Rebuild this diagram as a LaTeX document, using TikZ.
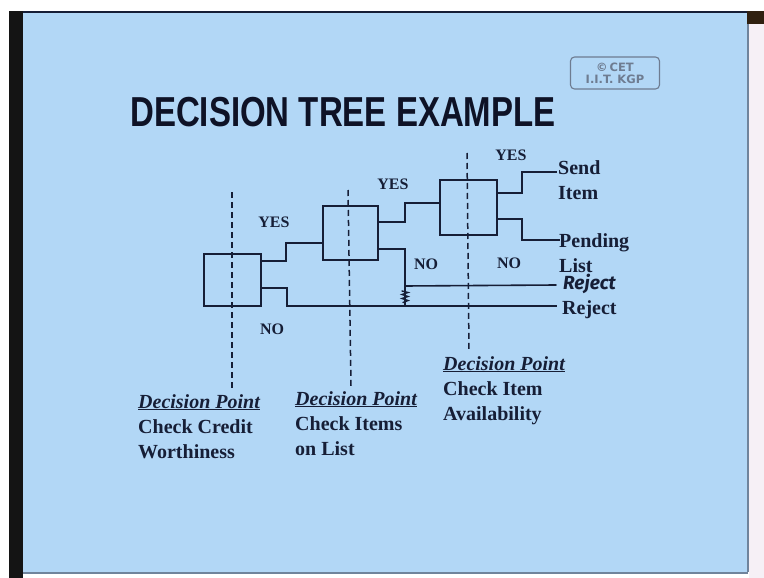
\documentclass[tikz,border=0pt]{standalone}
\usepackage{fontspec}
\usepackage{graphicx}
\setmainfont{Liberation Serif}
\setsansfont{Liberation Sans}
\newfontfamily\cetfont{DejaVu Sans}
\newfontfamily\handfont{Fira Sans}

\definecolor{slide}{RGB}{178,215,246}
\definecolor{ink}{RGB}{22,30,54}
\definecolor{titleink}{RGB}{14,18,38}
\definecolor{stamp}{RGB}{110,124,145}
\definecolor{paperedge}{RGB}{112,132,156}
\definecolor{offwhite}{RGB}{246,240,246}

\begin{document}
\begin{tikzpicture}[x=1pt,y=-1pt,
  every node/.style={inner sep=0pt, text=ink},
  dbox/.style={draw=ink, line width=1.5pt, anchor=north west},
  wire/.style={draw=ink, line width=1.3pt},
  hand/.style={draw=ink, line width=1.6pt, line cap=round},
  guide/.style={draw=ink, line width=1.5pt, dash pattern=on 6pt off 4pt},
  branch/.style={font=\fontsize{16}{16}\selectfont\bfseries},
  outcome/.style={font=\fontsize{20}{25}\selectfont\bfseries, align=left, anchor=north west},
  dpoint/.style={font=\fontsize{20}{25}\selectfont\bfseries, align=left, anchor=north west},
]
\useasboundingbox (0,0) rectangle (764,578);

% paper, projector frame and slide
\fill[white] (0,0) rectangle (764,578);
\fill[black!92] (9,11) rectangle (23,578);
\fill[offwhite] (749,11) rectangle (764,578);
\fill[slide] (23,12) rectangle (747,572);
\draw[paperedge, line width=2pt] (748,12) -- (748,572);
\draw[paperedge, line width=2pt] (23,573) -- (748,573);
\draw[ink, line width=1.5pt] (23,11.8) -- (748,11.8);
\fill[black!75!brown] (747,11) rectangle (764,24);

% copyright stamp
\node[draw=stamp, line width=1.1pt, rounded corners=4pt, minimum width=89pt, minimum height=32pt,
      align=center, text=stamp, font=\cetfont\bfseries\fontsize{11.5}{12}\selectfont]
  (stamp) at (615,73) {\copyright\,CET\\I.I.T.\ KGP};

% title
\node[anchor=base west, text=titleink, font=\sffamily\bfseries\fontsize{33}{33}\selectfont]
  (title) at (130,127) {\scalebox{1}[1.27]{DECISION TREE EXAMPLE}};

% decision point guide lines
\draw[guide] (232,192) -- (232,388);
\draw[guide] (348,190) -- (351,386);
\draw[guide] (467,153) -- (469,350);

% decision boxes
\node[dbox, minimum width=57pt, minimum height=52pt] (b1) at (203,253) {};
\node[dbox, minimum width=55pt, minimum height=54pt] (b2) at (322,205) {};
\node[dbox, minimum width=57pt, minimum height=55pt] (b3) at (439,179) {};

% outcome end points
\coordinate (sendEnd) at (557,172);
\coordinate (pendEnd) at (560,240);
\coordinate (rejHandEnd) at (556,285);
\coordinate (rejEnd) at (557,306);
\coordinate (joinNo) at (405,306);
\coordinate (joinHand) at (405,286);

% branches
\draw[wire] (b1.east |- 0,261) -| (286,243) -- (b2.west |- 0,243);
\draw[wire] (b1.east |- 0,288) -| (287,306) -- (rejEnd);
\draw[wire] (b2.east |- 0,222) -| (405,203) -- (b3.west |- 0,203);
\draw[wire] (b2.east |- 0,249) -| (joinNo);
\draw[wire] (b3.east |- 0,193) -| (522,172) -- (sendEnd);
\draw[wire] (b3.east |- 0,219) -| (522,240) -- (pendEnd);

% hand-drawn reject branch and the scribble over the old junction
\draw[hand] (joinHand) -- (rejHandEnd);
\draw[ink, line width=1.4pt, line cap=round]
  (402,291) -- (408,292.5) -- (402,294.5) -- (408,296.5) -- (402,298.5) -- (408,300.5) -- (403,302.5);

% branch labels
\node[branch] (yes1) at (274,222) {YES};
\node[branch] (no1)  at (272,329) {NO};
\node[branch] (yes2) at (393,184) {YES};
\node[branch] (no2)  at (426,264) {NO};
\node[branch] (yes3) at (511,155) {YES};
\node[branch] (no3)  at (509,263) {NO};

% outcomes
\node[outcome] (send) at (558,160) {Send\\Item};
\node[outcome] (pend) at (559,233) {Pending\\List};
\node[anchor=west, font=\handfont\bfseries\itshape\fontsize{19}{19}\selectfont] (rejhand) at (563,284) {Reject};
\node[outcome] (rej) at (562,300) {Reject};

% decision point captions
\node[dpoint] (dp1) at (138,394) {\underline{\itshape Decision Point}\\Check Credit\\Worthiness};
\node[dpoint] (dp2) at (295,391) {\underline{\itshape Decision Point}\\Check Items\\on List};
\node[dpoint] (dp3) at (443,356) {\underline{\itshape Decision Point}\\Check Item\\Availability};
\end{tikzpicture}
\end{document}
